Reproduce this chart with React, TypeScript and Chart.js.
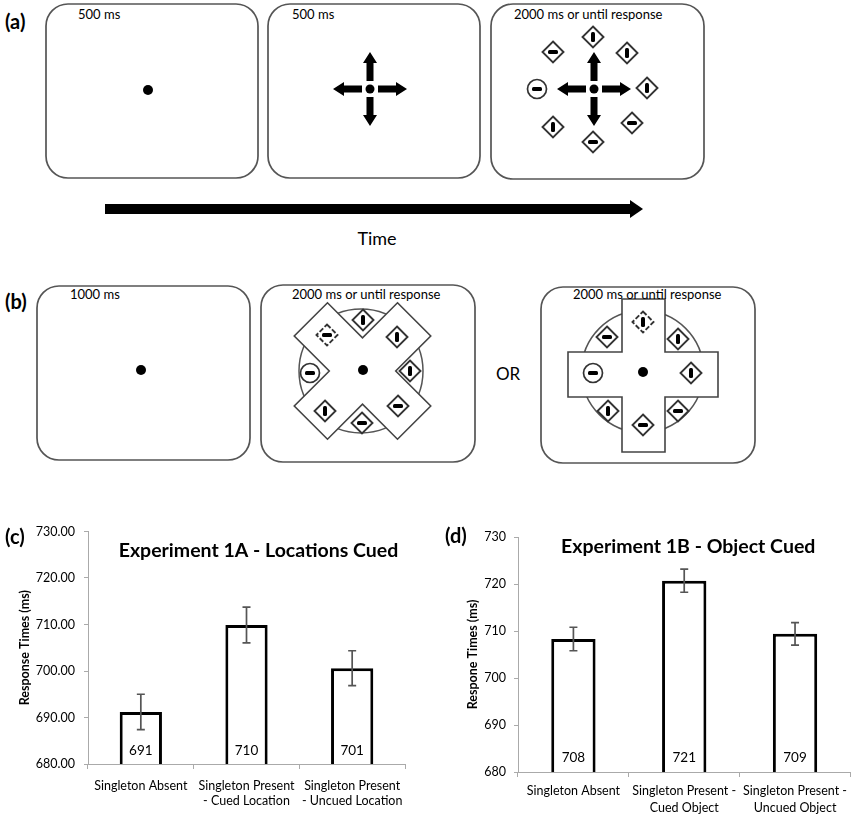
import React, { useEffect, useRef } from "react";
import { Chart, registerables } from "chart.js";
Chart.register(...registerables);

const FONT = "Lato, 'Open Sans', sans-serif";

// ---- Panel (c) data ----
const cCategories = [["Singleton Absent"], ["Singleton Present", "- Cued Location"], ["Singleton Present", "- Uncued Location"]];
const cMeans = [691.2, 709.9, 700.6];
const cErrors = [3.8, 3.85, 3.75];
const cTitle = "Experiment 1A - Locations Cued";
const cYTitle = "Response Times (ms)";
const cYMin = 680;
const cYMax = 730;
const cYStep = 10;
const cTickDecimals = 2;

// ---- Panel (d) data ----
const dCategories = [["Singleton Absent"], ["Singleton Present -", "Cued Object"], ["Singleton Present -", "Uncued Object"]];
const dMeans = [708.3, 720.7, 709.4];
const dErrors = [2.5, 2.45, 2.4];
const dTitle = "Experiment 1B - Object Cued";
const dYTitle = "Respone Times (ms)";
const dYMin = 680;
const dYMax = 730;
const dYStep = 10;
const dTickDecimals = 0;

const errorBarPlugin = {
  id: "errorBars",
  afterDatasetsDraw(chart: any, _args: any, opts: any) {
    const { ctx, chartArea } = chart;
    const meta = chart.getDatasetMeta(0);
    const y = chart.scales.y;
    const data = chart.data.datasets[0].data as number[];
    ctx.save();
    ctx.strokeStyle = "#555";
    ctx.lineWidth = 1.7;
    meta.data.forEach((bar: any, i: number) => {
      const v = data[i];
      const t = y.getPixelForValue(v + opts.errors[i]);
      const b = y.getPixelForValue(v - opts.errors[i]);
      const x = bar.x;
      ctx.beginPath();
      ctx.moveTo(x, t);
      ctx.lineTo(x, b);
      ctx.moveTo(x - 4, t);
      ctx.lineTo(x + 4, t);
      ctx.moveTo(x - 4, b);
      ctx.lineTo(x + 4, b);
      ctx.stroke();
    });
    ctx.fillStyle = "#000";
    ctx.textAlign = "center";
    ctx.textBaseline = "middle";
    ctx.font = `13.5px ${FONT}`;
    meta.data.forEach((bar: any, i: number) => {
      ctx.fillText(String(Math.round(data[i])), bar.x, chartArea.bottom + opts.labelOffset);
    });
    ctx.font = `bold ${opts.titleSize}px ${FONT}`;
    ctx.fillText(opts.title, (chartArea.left + chartArea.right) / 2 + opts.titleDx, chartArea.top + opts.titleDy);
    ctx.restore();
  },
};

function makeConfig(p: any) {
  return {
    type: "bar",
    data: {
      labels: p.labels,
      datasets: [
        {
          data: p.values,
          backgroundColor: "#ffffff",
          borderColor: "#000000",
          borderWidth: 3,
          borderSkipped: false,
          barPercentage: 0.4,
          categoryPercentage: 1,
        },
      ],
    },
    options: {
      responsive: false,
      animation: false,
      devicePixelRatio: 1,
      layout: { padding: { top: p.padTop, right: p.padRight, left: 0, bottom: 0 } },
      plugins: {
        legend: { display: false },
        tooltip: { enabled: false },
        title: { display: false },
        errorBars: {
          errors: p.errors,
          title: p.title,
          titleSize: p.titleSize,
          titleDx: p.titleDx,
          titleDy: p.titleDy,
          labelOffset: p.labelOffset,
        },
      },
      scales: {
        x: {
          grid: { display: true, drawOnChartArea: false, drawTicks: true, tickLength: 5, color: "#aaa", offset: true },
          border: { display: true, color: "#aaa", width: 1 },
          ticks: {
            color: "#000",
            font: { family: FONT, size: 12.5, lineHeight: p.xLineHeight },
            padding: p.xPad,
            maxRotation: 0,
            autoSkip: false,
          },
          afterFit: (s: any) => {
            s.height = p.xHeight;
          },
        },
        y: {
          min: p.yMin,
          max: p.yMax,
          ticks: {
            stepSize: p.yStep,
            color: "#000",
            font: { family: FONT, size: 12.5 },
            padding: p.yPad,
            callback: (v: any) => Number(v).toFixed(p.decimals),
          },
          grid: { display: true, drawOnChartArea: false, drawTicks: true, tickLength: 4, color: "#aaa" },
          border: { display: true, color: "#aaa", width: 1 },
          title: {
            display: true,
            text: p.yTitle,
            color: "#000",
            font: { family: FONT, size: 12.5, weight: "bold" },
            padding: { top: p.yTitlePad, bottom: 0 },
          },
          afterFit: (s: any) => {
            s.width = 88;
          },
        },
      },
    },
    plugins: [errorBarPlugin],
  };
}

function BarChart({ params, left, top, width, height }: any) {
  const ref = useRef<HTMLCanvasElement | null>(null);
  useEffect(() => {
    const chart = new Chart(ref.current as HTMLCanvasElement, makeConfig(params) as any);
    return () => chart.destroy();
  }, []);
  return (
    <canvas
      ref={ref}
      width={width}
      height={height}
      style={{ position: "absolute", left, top, width, height }}
    />
  );
}

const STROKE = "#555";

function Box({ x, y, w, h }: any) {
  return <rect x={x} y={y} width={w} height={h} rx={22} ry={22} fill="#fff" stroke={STROKE} strokeWidth={1.7} />;
}

function Item({ x, y, o, circle, dashed }: any) {
  const s = 10.5;
  const bar =
    o === "v" ? (
      <rect x={x - 2} y={y - 5} width={4} height={10} rx={1.5} fill="#000" />
    ) : (
      <rect x={x - 5} y={y - 2} width={10} height={4} rx={1.5} fill="#000" />
    );
  return (
    <g>
      {circle ? (
        <circle cx={x} cy={y} r={9.5} fill="#fff" stroke="#333" strokeWidth={1.7} />
      ) : (
        <polygon
          points={`${x},${y - s} ${x + s},${y} ${x},${y + s} ${x - s},${y}`}
          fill="#fff"
          stroke="#333"
          strokeWidth={1.9}
          strokeDasharray={dashed ? "5 2" : undefined}
        />
      )}
      {bar}
    </g>
  );
}

function Arrows({ cx, cy }: any) {
  const up = `-3.5,-8 3.5,-8 3.5,-26 7,-26 0,-37 -7,-26 -3.5,-26`;
  return (
    <g transform={`translate(${cx},${cy})`} fill="#000">
      {[0, 90, 180, 270].map((a) => (
        <polygon key={a} points={up} transform={`rotate(${a})`} />
      ))}
    </g>
  );
}

function plusPoints(h: number, L: number) {
  return [
    [-h, -L], [h, -L], [h, -h], [L, -h], [L, h], [h, h], [h, L], [-h, L], [-h, h], [-L, h], [-L, -h], [-h, -h],
  ]
    .map((p) => p.join(","))
    .join(" ");
}

function Diagrams() {
  const txt = { fontFamily: FONT, fontSize: 13, fill: "#000" } as any;
  const a3Items = [
    { x: 593, y: 37, o: "v" }, { x: 627, y: 53, o: "v" }, { x: 647, y: 88, o: "v" }, { x: 632, y: 123, o: "h" },
    { x: 593, y: 142, o: "h" }, { x: 553, y: 127, o: "v" }, { x: 537, y: 89, o: "h", circle: true }, { x: 553, y: 52, o: "h" },
  ];
  const b2Items = [
    { x: 363, y: 320, o: "v" }, { x: 397, y: 337, o: "v" }, { x: 410, y: 371, o: "v" }, { x: 398, y: 406, o: "h" },
    { x: 362, y: 423, o: "h" }, { x: 325, y: 411, o: "v" }, { x: 310, y: 373, o: "h", circle: true }, { x: 327, y: 335, o: "h", dashed: true },
  ];
  const b3Items = [
    { x: 643, y: 322, o: "v", dashed: true }, { x: 678, y: 339, o: "v" }, { x: 691, y: 373, o: "v" }, { x: 678, y: 411, o: "h" },
    { x: 643, y: 425, o: "h" }, { x: 608, y: 411, o: "v" }, { x: 593, y: 373, o: "h", circle: true }, { x: 607, y: 337, o: "h" },
  ];
  return (
    <svg width={853} height={470} style={{ position: "absolute", left: 0, top: 0 }}>
      {/* Panel (a) */}
      <text x={5} y={29} fontFamily={FONT} fontSize={20} fontWeight="bold">(a)</text>
      <Box x={46} y={4} w={212} h={174} />
      <Box x={268} y={4} w={212} h={174} />
      <Box x={491} y={4} w={213} h={175} />
      <text x={78} y={19} {...txt}>500 ms</text>
      <text x={292} y={19} {...txt}>500 ms</text>
      <text x={514} y={19} {...txt}>2000 ms or until response</text>
      <circle cx={148} cy={90} r={5} fill="#000" />
      <circle cx={370} cy={89} r={4.5} fill="#000" />
      <Arrows cx={370} cy={89} />
      <circle cx={594} cy={89} r={4.5} fill="#000" />
      <Arrows cx={594} cy={89} />
      {a3Items.map((it, i) => <Item key={i} {...it} />)}
      <rect x={105} y={204} width={527} height={10} fill="#000" />
      <polygon points="630,200 643,209 630,218" fill="#000" />
      <text x={377} y={245} textAnchor="middle" fontFamily={FONT} fontSize={18} fill="#000">Time</text>

      {/* Panel (b) */}
      <text x={5} y={309} fontFamily={FONT} fontSize={20} fontWeight="bold">(b)</text>
      <Box x={37} y={286} w={213} h={174} />
      <Box x={261} y={285} w={214} h={177} />
      <Box x={541} y={287} w={214} h={176} />
      <text x={70} y={299} {...txt}>1000 ms</text>
      <circle cx={141} cy={370} r={5} fill="#000" />
      <circle cx={361} cy={371} r={62} fill="#fff" stroke={STROKE} strokeWidth={1.5} />
      <polygon points={plusPoints(23.5, 73)} transform="translate(362.5,371) rotate(45)" fill="#fff" stroke="#444" strokeWidth={1.6} />
      <text x={292} y={299} {...txt}>2000 ms or until response</text>
      <circle cx={363} cy={370} r={5} fill="#000" />
      {b2Items.map((it, i) => <Item key={i} {...it} />)}
      <text x={496} y={380} fontFamily={FONT} fontSize={17} fill="#000">OR</text>
      <circle cx={642.5} cy={371.5} r={61} fill="#fff" stroke={STROKE} strokeWidth={1.5} />
      <polygon
        points="622,299 665,299 665,352 718,352 718,397 665,397 665,452 622,452 622,397 568,397 568,352 622,352"
        fill="#fff"
        stroke="#444"
        strokeWidth={1.6}
      />
      <text x={573} y={299} {...txt}>2000 ms or until response</text>
      <circle cx={643} cy={372} r={5} fill="#000" />
      {b3Items.map((it, i) => <Item key={i} {...it} />)}
    </svg>
  );
}

const cParams = {
  labels: cCategories,
  values: cMeans,
  errors: cErrors,
  title: cTitle,
  yTitle: cYTitle,
  yMin: cYMin,
  yMax: cYMax,
  yStep: cYStep,
  decimals: cTickDecimals,
  padTop: 14,
  padRight: 20,
  xHeight: 52,
  xPad: 9,
  xLineHeight: 1.25,
  yPad: 9,
  yTitlePad: 17,
  titleSize: 19.5,
  titleDx: 12,
  titleDy: 19,
  labelOffset: -13,
};

const dParams = {
  labels: dCategories,
  values: dMeans,
  errors: dErrors,
  title: dTitle,
  yTitle: dYTitle,
  yMin: dYMin,
  yMax: dYMax,
  yStep: dYStep,
  decimals: dTickDecimals,
  padTop: 22,
  padRight: 0,
  xHeight: 44,
  xPad: 6,
  xLineHeight: 1.35,
  yPad: 8,
  yTitlePad: 35,
  titleSize: 19.5,
  titleDx: 4,
  titleDy: 10,
  labelOffset: -14,
};

export default function App() {
  return (
    <div style={{ position: "absolute", left: 0, top: 0, width: 853, height: 816, background: "#fff", overflow: "hidden" }}>
      <Diagrams />
      <BarChart params={cParams} left={0} top={515} width={425} height={301} />
      <BarChart params={dParams} left={430} top={515} width={423} height={301} />
      <div style={{ position: "absolute", left: 5, top: 524, fontFamily: FONT, fontSize: 20, fontWeight: "bold" }}>(c)</div>
      <div style={{ position: "absolute", left: 445, top: 523, fontFamily: FONT, fontSize: 20, fontWeight: "bold" }}>(d)</div>
    </div>
  );
}
